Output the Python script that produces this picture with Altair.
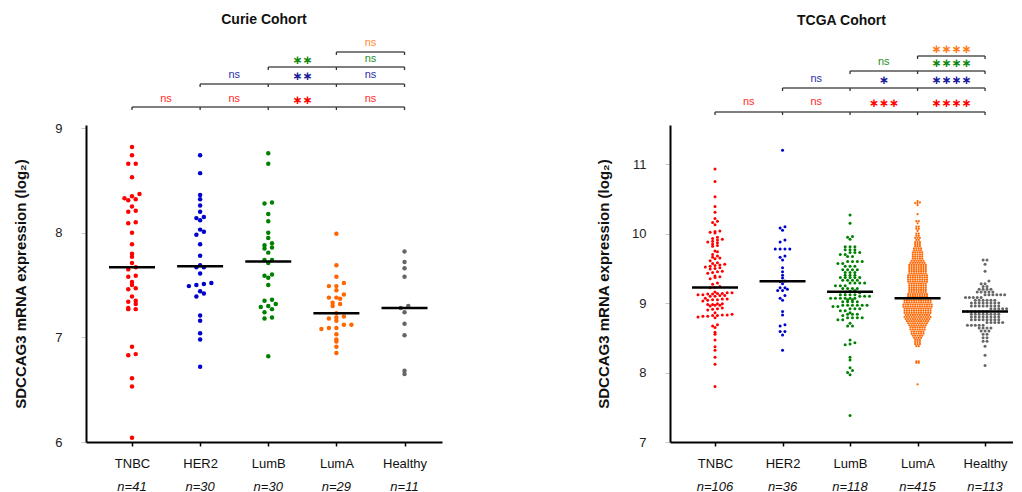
import json
import altair as alt
import numpy as np
import pandas as pd

FONT = "Liberation Sans"
CATS = ["TNBC", "HER2", "LumB", "LumA", "Healthy"]
COLORS = ["#ff0000", "#0000cc", "#008000", "#ff6600", "#666666"]

# ---------------- Curie cohort ----------------
curie_TNBC = [8.82, 8.74, 8.66, 8.66, 8.53, 8.37, 8.35, 8.33, 8.32, 8.31, 8.25, 8.21, 8.20, 8.10,
              8.09, 8.00, 7.89, 7.80, 7.77, 7.71, 7.67, 7.65, 7.59, 7.58, 7.53, 7.50, 7.47, 7.46,
              7.39, 7.35, 7.34, 7.32, 7.28, 7.27, 7.27, 6.91, 6.84, 6.83, 6.61, 6.53, 6.04]
curie_HER2 = [8.74, 8.57, 8.36, 8.32, 8.26, 8.20, 8.15, 8.14, 8.12, 8.03, 8.01, 7.98, 7.89, 7.78,
              7.69, 7.67, 7.67, 7.61, 7.52, 7.51, 7.50, 7.49, 7.44, 7.42, 7.39, 7.21, 7.16, 7.04,
              6.98, 6.72]
curie_LumB = [8.76, 8.66, 8.29, 8.28, 8.18, 8.11, 8.00, 7.95, 7.90, 7.88, 7.86, 7.85, 7.81, 7.74,
              7.74, 7.71, 7.60, 7.59, 7.57, 7.50, 7.36, 7.35, 7.32, 7.30, 7.29, 7.27, 7.24, 7.19,
              7.18, 6.82]
curie_LumA = [7.99, 7.69, 7.58, 7.52, 7.49, 7.49, 7.45, 7.41, 7.38, 7.38, 7.37, 7.33, 7.32, 7.30,
              7.23, 7.20, 7.19, 7.18, 7.16, 7.12, 7.12, 7.09, 7.09, 7.08, 7.03, 6.98, 6.96, 6.91,
              6.85]
curie_Healthy = [7.82, 7.72, 7.66, 7.58, 7.30, 7.28, 7.24, 7.13, 7.02, 6.68, 6.65]
curie_n = [41, 30, 30, 29, 11]
curie_sig = [["ns", "ns", "∗∗", "ns"], ["ns", "∗∗", "ns"], ["∗∗", "ns"], ["ns"]]

# ---------------- TCGA cohort ----------------
tcga_TNBC = [10.93, 10.75, 10.53, 10.39, 10.31, 10.22, 10.18, 10.16, 10.13,
             10.04, 10.03, 10.02, 10.01,
             9.95, 9.93, 9.92, 9.91, 9.89, 9.88, 9.87,
             9.85, 9.83, 9.82, 9.75, 9.74,
             9.70, 9.68, 9.66, 9.65, 9.64, 9.61,
             9.58, 9.57, 9.56, 9.55, 9.54, 9.53, 9.52, 9.51, 9.50, 9.49,
             9.46, 9.45, 9.44, 9.43, 9.39, 9.38, 9.37, 9.35, 9.29, 9.27,
             9.24, 9.23, 9.22,
             9.16, 9.15, 9.15, 9.14, 9.14, 9.13, 9.13, 9.12, 9.12, 9.11, 9.11, 9.10, 9.10,
             9.07, 9.06, 9.06, 9.05, 9.05, 9.04, 9.03,
             8.99, 8.99, 8.98, 8.98, 8.97, 8.97, 8.96,
             8.93, 8.92, 8.91, 8.90,
             8.86, 8.84, 8.83, 8.83, 8.82, 8.82, 8.81, 8.81, 8.80, 8.79,
             8.69, 8.67, 8.65, 8.58, 8.55, 8.47,
             8.37, 8.32, 8.22, 8.12, 7.80]
tcga_HER2 = [11.20, 10.10, 10.08, 10.05, 9.91, 9.88, 9.78, 9.78, 9.78, 9.78, 9.68, 9.66, 9.62,
             9.51, 9.45, 9.40, 9.36, 9.32, 9.31, 9.28, 9.22, 9.22, 9.20, 9.18, 9.18, 9.11, 9.07,
             9.04, 8.88, 8.83, 8.69, 8.67, 8.59, 8.59, 8.54, 8.32]
tcga_LumB_levels = [10.27, 10.15, 9.96, 9.95, 9.92,
                    9.81, 9.77, 9.73, 9.70, 9.67, 9.60, 9.57, 9.53, 9.48, 9.44, 9.40, 9.37, 9.33,
                    9.29, 9.25, 9.21, 9.18, 9.17, 9.16, 9.15,
                    9.12, 9.10, 9.07, 9.05, 9.02, 8.97, 8.95, 8.92, 8.89, 8.86, 8.84, 8.82, 8.79,
                    8.76, 8.71, 8.67,
                    8.47, 8.43, 8.41, 8.40, 8.22, 8.18, 8.07, 8.03, 8.00, 7.97, 7.38]
tcga_LumB_counts = [1, 1, 1, 1, 1,
                    3, 3, 3, 2, 2, 4, 2, 3, 4, 3, 3, 5, 4,
                    4, 3, 4, 1, 1, 1, 1,
                    4, 3, 6, 2, 4, 6, 2, 3, 2, 1, 3, 1, 4,
                    2, 1, 2,
                    1, 1, 1, 1, 1, 1, 1, 1, 1, 1, 1]
tcga_LumA_levels = [10.47, 10.45, 10.44, 10.41, 10.28, 10.18, 10.15, 10.10, 10.07, 10.04,
                    10.00, 9.97, 9.94, 9.91, 9.88, 9.85, 9.82, 9.79, 9.76, 9.73,
                    9.70, 9.67, 9.64, 9.61, 9.58, 9.55, 9.52,
                    9.49, 9.46, 9.43, 9.40, 9.37, 9.34, 9.31, 9.28, 9.25, 9.22, 9.19, 9.16, 9.13, 9.10,
                    9.07,
                    9.04, 9.01, 8.98, 8.95, 8.92, 8.89, 8.86, 8.83, 8.80, 8.77, 8.74, 8.71,
                    8.68, 8.65, 8.62, 8.59, 8.56, 8.53, 8.50, 8.47, 8.44, 8.41, 8.38,
                    8.16, 8.14, 7.83]
tcga_LumA_counts = [1, 1, 2, 1, 1, 2, 1, 2, 2, 1,
                    2, 2, 3, 2, 3, 3, 3, 4, 4, 5,
                    5, 5, 5, 6, 7, 8, 8,
                    8, 8, 8, 9, 9, 9, 9, 8, 8, 8, 8, 8, 9, 9,
                    10,
                    12, 12, 13, 13, 12, 12, 12, 11, 12, 11, 10, 9,
                    8, 7, 7, 6, 6, 5, 4, 3, 3, 3, 2,
                    2, 2, 1]
tcga_Healthy_levels = [9.62, 9.56, 9.46, 9.32, 9.28, 9.24, 9.20, 9.16, 9.12, 9.08, 9.04, 9.00,
                       8.96, 8.92, 8.88, 8.84, 8.80, 8.76, 8.72, 8.68, 8.64, 8.60, 8.55, 8.50,
                       8.45, 8.38, 8.25, 8.10]
tcga_Healthy_counts = [2, 1, 1, 1, 2, 2, 4, 5, 6, 5, 6, 8,
                       8, 5, 7, 8, 8, 8, 5, 5, 4, 3, 2, 2,
                       2, 1, 1, 1]
tcga_n = [106, 36, 118, 415, 113]
tcga_sig = [["ns", "ns", "∗∗∗", "∗∗∗∗"], ["ns", "∗", "∗∗∗∗"], ["ns", "∗∗∗∗"], ["∗∗∗∗"]]

ROW_COLORS = ["#ff2b2b", "#2f2fa8", "#1f8f1f", "#ff8a33"]
STAR_COLORS = ["#ff0000", "#1a1a9a", "#118811", "#ff7a1a"]
CATS_JS = json.dumps(CATS)


def long_table(groups):
    return pd.DataFrame({
        "g": np.concatenate([[c] * len(v) for c, v in zip(CATS, groups)]),
        "v": np.concatenate([np.asarray(v, dtype=float) for v in groups]),
    })


def panel(df, n_list, sig, title, ydom, yvals, height, width, xdom,
          rowh_expr, sp_expr, size_expr, line_dy, label_dy, title_offset, title_pad):
    xs = alt.Scale(domain=xdom, nice=False, zero=False)
    ys = alt.Scale(domain=ydom, nice=False, zero=False)
    xaxis = alt.Axis(values=[0, 1, 2, 3, 4],
                     labelExpr=f"{CATS_JS}[datum.value]",
                     title=None, grid=False, domainColor="black", domainWidth=2,
                     tickColor="black", tickSize=4, tickWidth=1.5,
                     labelFont=FONT, labelFontSize=13, labelColor="#111",
                     labelPadding=11)
    yaxis = alt.Axis(values=yvals, format="d", title="SDCCAG3 mRNA expression (log₂)",
                     grid=False, domainColor="black", domainWidth=2,
                     tickColor="#c8c8c8", tickSize=5, tickWidth=1,
                     labelFont=FONT, labelFontSize=13, labelColor="#222", labelPadding=19,
                     titleFont=FONT, titleFontSize=15, titleFontWeight="bold",
                     titleColor="#111", titlePadding=title_pad)

    def X(field):
        return alt.X(field, scale=xs, axis=xaxis)

    def Y(field):
        return alt.Y(field, scale=ys, axis=yaxis)

    pts = alt.Chart(df).transform_calculate(
        ci=f"indexof({CATS_JS}, datum.g)"
    ).transform_calculate(
        rowh=rowh_expr
    ).transform_calculate(
        sp=sp_expr
    ).transform_calculate(
        sz=size_expr
    ).transform_calculate(
        row="round(datum.v / datum.rowh)"
    ).transform_joinaggregate(
        cnt="count()", groupby=["g", "row"]
    ).transform_window(
        rk="row_number()", groupby=["g", "row"], sort=[alt.SortField("v")]
    ).transform_calculate(
        xp="datum.ci + (datum.rk - (datum.cnt + 1) / 2) * datum.sp"
    ).mark_circle(opacity=1).encode(
        x=X("xp:Q"),
        y=Y("v:Q"),
        color=alt.Color("g:N", scale=alt.Scale(domain=CATS, range=COLORS), legend=None),
        size=alt.Size("sz:Q", scale=None),
    )

    med = alt.Chart(df).transform_aggregate(
        med="median(v)", groupby=["g"]
    ).transform_calculate(
        ci=f"indexof({CATS_JS}, datum.g)"
    ).mark_tick(orient="horizontal", size=46, thickness=2.5, color="black", opacity=1).encode(
        x=X("ci:Q"),
        y=Y("med:Q"),
    )

    layers = [pts, med]
    for i, segs in enumerate(sig):
        line_df = pd.DataFrame({"x1": [i], "x2": [4]})
        layers.append(alt.Chart(line_df).mark_rule(color="#555555", strokeWidth=1.5).encode(
            x=X("x1:Q"), x2="x2:Q", y=alt.value(line_dy[i])))
        tick_df = pd.DataFrame({"x": list(range(i, 5))})
        layers.append(alt.Chart(tick_df).mark_rule(color="#333333", strokeWidth=1.3).encode(
            x=X("x:Q"), y=alt.value(line_dy[i]), y2=alt.value(line_dy[i] + 3)))
        lab_df = pd.DataFrame({"x": [i + j + 0.5 for j in range(len(segs))], "t": segs})
        ns_df = lab_df[lab_df["t"] == "ns"]
        star_df = lab_df[lab_df["t"] != "ns"]
        if len(ns_df):
            layers.append(alt.Chart(ns_df).mark_text(
                font=FONT, fontSize=11, baseline="middle", color=ROW_COLORS[i]).encode(
                x=X("x:Q"), y=alt.value(label_dy[i]), text="t:N"))
        if len(star_df):
            layers.append(alt.Chart(star_df).mark_text(
                font="DejaVu Sans", fontSize=12, fontWeight="bold", baseline="middle",
                color=STAR_COLORS[i]).encode(
                x=X("x:Q"), y=alt.value(label_dy[i] + 1), text="t:N"))

    n_df = pd.DataFrame({"g": CATS, "n": n_list})
    layers.append(alt.Chart(n_df).transform_calculate(
        ci=f"indexof({CATS_JS}, datum.g)"
    ).transform_calculate(
        lab="'n=' + datum.n"
    ).mark_text(font=FONT, fontSize=13, fontStyle="italic", baseline="middle", color="#111").encode(
        x=X("ci:Q"), y=alt.value(height + 45), text="lab:N"))

    return alt.layer(*layers).properties(
        width=width, height=height,
        title=alt.TitleParams(title, font=FONT, fontSize=14, fontWeight="bold",
                              color="#111", anchor="middle", offset=title_offset),
    )


curie_df = long_table([curie_TNBC, curie_HER2, curie_LumB, curie_LumA, curie_Healthy])
tcga_df = long_table([
    tcga_TNBC, tcga_HER2,
    np.repeat(tcga_LumB_levels, tcga_LumB_counts),
    np.repeat(tcga_LumA_levels, tcga_LumA_counts),
    np.repeat(tcga_Healthy_levels, tcga_Healthy_counts),
])

left = panel(curie_df, curie_n, curie_sig, "Curie Cohort", [6, 9.03], [6, 7, 8, 9], 317, 356,
             [-0.675, 4.55], "0.05", "0.11", "20",
             [-18, -41, -58, -73], [-26, -50, -66, -82], 10, 26)
right = panel(tcga_df, tcga_n, tcga_sig, "TCGA Cohort", [7, 11.565], [7, 8, 9, 10, 11], 317, 343,
              [-0.667, 4.414],
              "datum.g == 'LumA' ? 0.03 : (datum.g == 'Healthy' ? 0.05 : 0.045)",
              "datum.g == 'LumA' ? 0.035 : (datum.g == 'Healthy' ? 0.058 : 0.072)",
              "datum.g == 'LumA' ? 5 : 9",
              [-13, -37, -54, -69], [-23, -46, -63, -77], 15, 20)

chart = alt.hconcat(left, right, spacing=228, bounds="flush").configure_view(
    stroke=None
).properties(background="white", padding={"left": 5, "top": 5, "right": 0, "bottom": 0})

chart.save("out.html", embed_options={"renderer": "svg", "actions": False})
